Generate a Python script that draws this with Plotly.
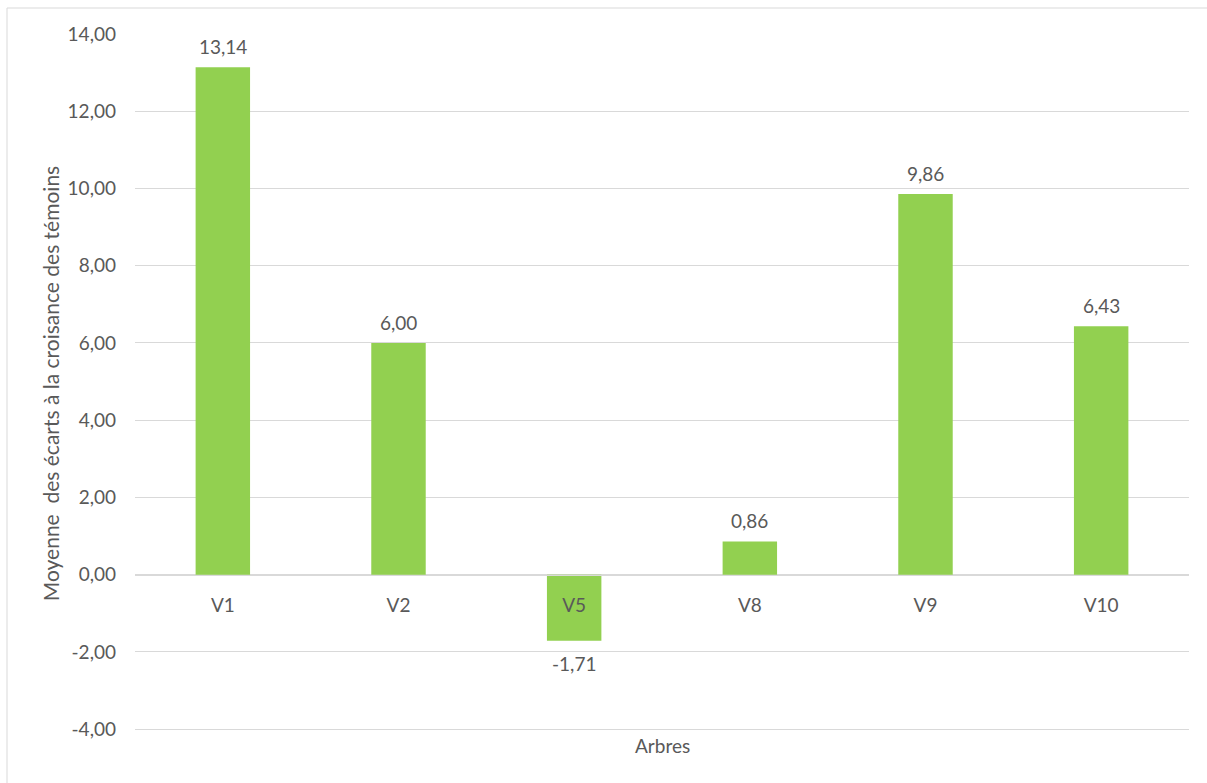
import plotly.graph_objects as go

categories = ["V1", "V2", "V5", "V8", "V9", "V10"]
values = [13.14, 6.00, -1.71, 0.86, 9.86, 6.43]
y_ticks = [-4, -2, 0, 2, 4, 6, 8, 10, 12, 14]

def fr(v):
    return f"{v:.2f}".replace(".", ",")

W, H = 1207, 783
ml, mr, mt, mb = 135, 18, 34, 50
ymin, ymax = -4.1, 14

TXT = "#595959"
GRID = "#d9d9d9"
FONT = "Lato, 'Open Sans', sans-serif"
FS = 19

fig = go.Figure()
fig.add_trace(go.Bar(
    x=categories, y=values,
    marker=dict(color="#92D050", line=dict(width=0)),
    width=0.31,
))

zero_pos = (0 - ymin) / (ymax - ymin)

annotations = []
for c, v in zip(categories, values):
    annotations.append(dict(
        x=c, y=v, xref="x", yref="y", text=fr(v), showarrow=False,
        yanchor="bottom" if v >= 0 else "top",
        yshift=7 if v >= 0 else -9,
        font=dict(size=FS, color=TXT, family=FONT),
    ))
annotations.append(dict(
    text="Arbres", xref="paper", yref="paper", x=0.5, y=0,
    yshift=-12, showarrow=False, yanchor="middle",
    font=dict(size=FS, color=TXT, family=FONT),
))

fig.update_layout(
    width=W, height=H,
    margin=dict(l=ml, r=mr, t=mt, b=mb),
    paper_bgcolor="white", plot_bgcolor="white",
    showlegend=False,
    font=dict(family=FONT, color=TXT, size=FS),
    xaxis=dict(
        anchor="free", position=zero_pos,
        showline=True, linecolor=GRID, linewidth=1,
        showgrid=False, ticks="", tickfont=dict(size=FS, color=TXT),
        ticklabelstandoff=14,
    ),
    yaxis=dict(
        range=[ymin, ymax],
        tickvals=y_ticks, ticktext=[fr(v) for v in y_ticks],
        showgrid=True, gridcolor=GRID, gridwidth=1,
        zeroline=True, zerolinecolor=GRID, zerolinewidth=1,
        showline=False, ticks="",
        tickfont=dict(size=FS, color=TXT),
        ticklabelstandoff=18,
        title=dict(text="Moyenne  des écarts à la croisance des témoins",
                   font=dict(size=21, color=TXT), standoff=2),
    ),
    annotations=annotations,
    shapes=[dict(
        type="rect", xref="paper", yref="paper",
        x0=(7 - ml) / (W - ml - mr), x1=(W + 20 - ml) / (W - ml - mr),
        y0=-(mb + 20) / (H - mt - mb), y1=1 + (mt - 8) / (H - mt - mb),
        line=dict(color="#d9d9d9", width=1), fillcolor="rgba(0,0,0,0)",
        layer="below",
    )],
)

fig.write_html("out.html")
